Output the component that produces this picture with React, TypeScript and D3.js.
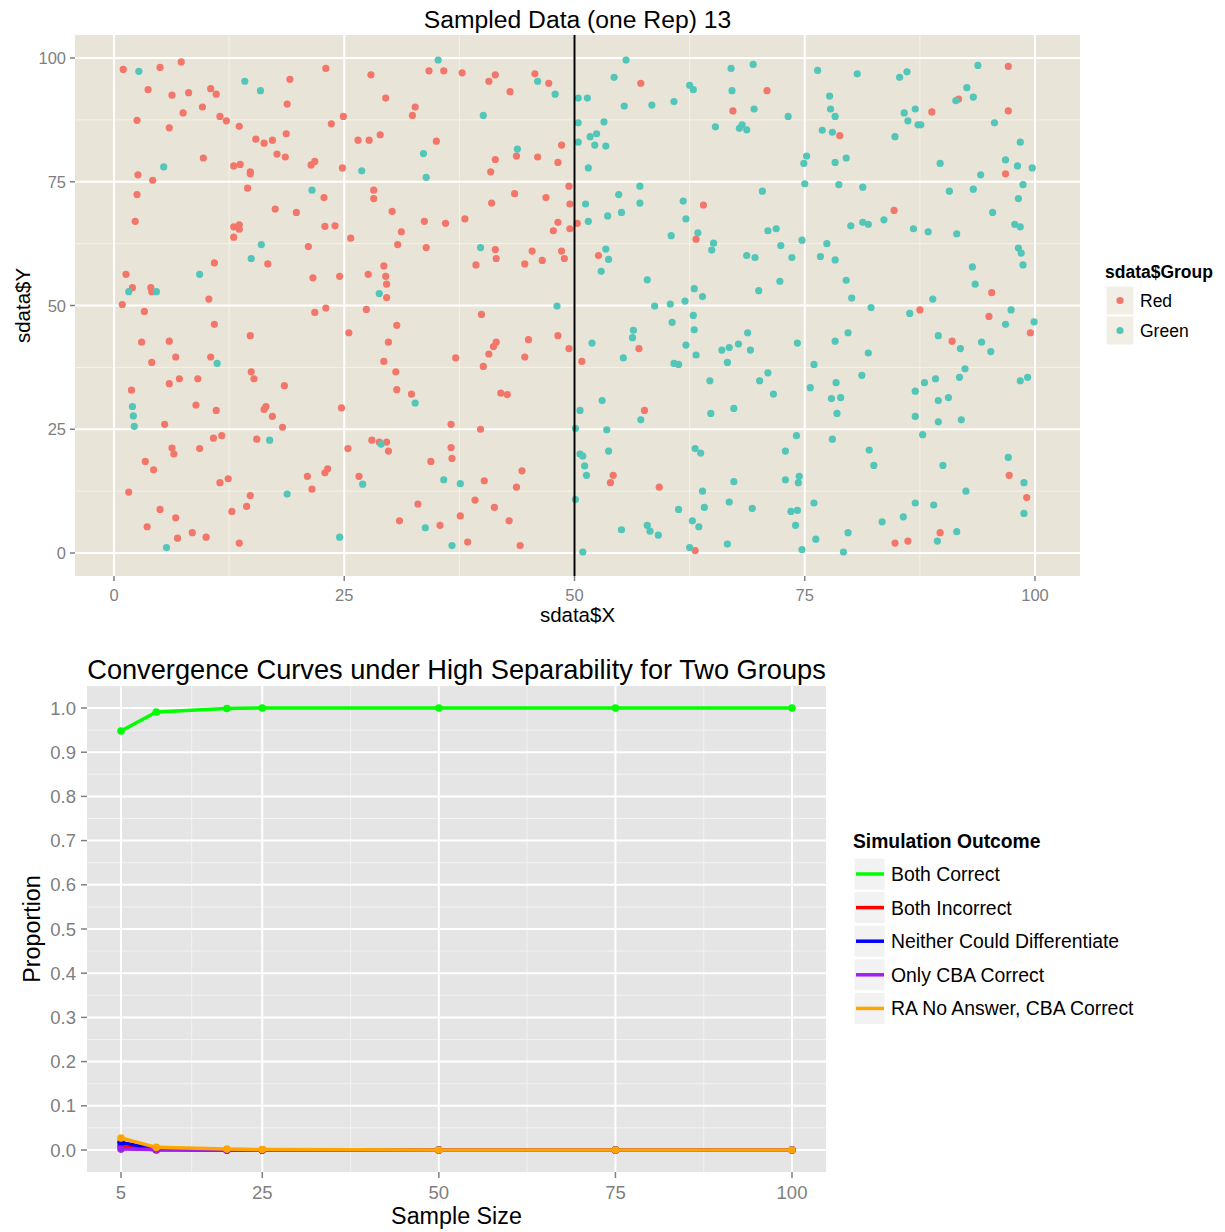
import React from "react";
import * as d3 from "d3";

// ---------- Top chart data (sdata$X, sdata$Y) ----------
const redPoints: [number, number][] = [
  [1.0,97.7],[5.0,98.1],[7.3,99.2],[19.1,95.7],[3.7,93.6],[6.3,92.5],[8.1,93.0],[10.5,93.8],[11.1,92.7],[18.8,90.7],
  [9.6,90.1],[7.5,88.9],[2.5,87.4],[11.5,88.2],[12.2,87.3],[13.6,86.2],[6.0,85.9],[15.4,83.6],[16.3,82.8],[17.2,83.4],
  [18.7,84.7],[17.7,80.6],[18.6,80.0],[9.7,79.8],[13.0,78.2],[13.7,78.5],[14.8,77.0],[14.8,76.6],[21.4,78.4],[21.8,79.1],
  [2.6,76.4],[4.2,75.3],[2.5,72.4],[14.5,73.7],[22.8,71.8],[17.5,69.5],[19.8,68.8],[2.3,67.0],[13.0,65.9],[13.6,66.3],
  [13.6,65.4],[13.0,63.8],[21.1,61.9],[16.7,58.4],[10.9,58.6],[1.3,56.3],[21.6,55.6],[2.0,53.6],[4.0,53.6],[4.1,52.8],
  [10.3,51.3],[0.9,50.2],[23.0,97.9],
  [27.9,96.6],[34.2,97.4],[35.8,97.4],[37.8,97.0],[40.7,95.3],[41.4,96.6],[45.7,96.8],[47.2,94.9],[43.0,93.2],[29.5,91.9],
  [32.7,90.1],[32.4,88.4],[24.9,88.2],[23.6,86.7],[26.5,83.4],[27.7,83.4],[28.9,84.5],[35.0,83.2],[43.7,80.2],[41.4,79.5],
  [46.0,80.0],[48.2,78.9],[48.6,82.4],[40.9,77.0],[24.8,77.8],[28.2,73.3],[28.2,71.6],[30.2,69.0],[33.7,67.0],[36.0,66.6],
  [38.1,67.5],[41.0,70.7],[43.5,72.6],[46.9,71.8],[49.4,74.1],[49.5,70.5],[48.2,66.8],[47.7,65.1],[49.5,65.5],[50.3,66.6],
  [22.9,66.0],[24.0,66.1],[25.7,63.6],[31.2,64.9],[30.8,62.3],[33.9,61.7],[41.4,61.3],[41.5,59.5],[39.3,58.2],[44.6,58.4],
  [45.4,61.0],[46.5,59.1],[48.6,61.0],[48.9,59.5],[29.3,58.0],[24.5,55.9],[27.6,56.3],[29.5,55.9],[29.6,54.3],[29.6,51.6],
  [3.3,48.8],[21.8,48.6],[23.0,49.5],[10.9,46.2],[14.8,43.9],[3.0,42.6],[6.0,42.8],[6.7,39.6],[4.1,38.5],[10.5,39.6],
  [14.9,36.6],[15.2,35.2],[6.0,34.2],[7.1,35.2],[9.1,35.2],[18.5,33.8],[1.9,32.9],[8.9,29.9],[11.1,28.8],[16.3,29.0],
  [16.5,29.6],[17.2,27.6],[18.3,25.4],[5.5,26.0],[10.8,23.2],[11.7,23.7],[15.5,23.0],[6.3,21.2],[6.5,20.0],[9.3,21.1],
  [3.4,18.5],[4.3,16.8],[11.5,14.2],[12.4,15.0],[1.6,12.3],[21.0,15.5],[21.5,12.9],[22.9,16.2],[14.8,11.6],[14.4,9.4],
  [12.8,8.4],[5.0,8.8],[6.7,7.1],[3.6,5.3],[8.5,4.1],[6.9,3.0],[10.0,3.2],[13.6,2.0],
  [27.4,49.2],[39.9,48.2],[30.7,46.0],[25.5,44.5],[29.8,42.6],[29.3,38.7],[37.1,39.4],[41.2,41.7],[41.5,42.6],[40.7,40.2],
  [45.0,43.1],[44.6,39.6],[48.2,43.9],[49.4,41.3],[50.8,38.7],[40.1,37.7],[30.6,36.6],[30.7,33.0],[32.3,32.1],[42.0,32.3],
  [42.7,32.0],[24.7,29.3],[36.6,26.0],[39.8,25.0],[28.0,22.8],[28.8,22.4],[29.6,22.4],[29.8,20.6],[25.4,21.1],[36.6,21.3],
  [36.7,19.1],[34.4,18.5],[23.2,17.0],[26.6,15.5],[40.2,14.6],[44.3,16.6],[43.7,13.3],[33.0,9.9],[39.2,10.7],[41.3,9.2],
  [37.6,7.5],[31.0,6.5],[35.4,5.6],[42.9,6.5],[38.4,2.2],[44.1,1.5],
  [57.2,94.9],[70.9,93.4],[67.2,89.3],[64.0,70.3],[63.2,63.4],[52.6,60.1],
  [97.1,98.3],[91.7,91.7],[88.8,89.1],[97.1,89.3],[78.8,84.3],[96.8,76.6],[84.7,69.2],[95.3,52.6],
  [57.0,41.3],[57.6,28.8],[54.2,15.7],[53.9,14.2],[59.2,13.3],[63.1,0.5],
  [87.5,49.1],[95.0,47.8],[99.5,44.5],[91.0,42.8],[97.2,15.7],[99.1,11.2],[84.8,2.0],[86.2,2.4],[89.7,4.1],
];

const greenPoints: [number, number][] = [
  [2.7,97.3],[14.2,95.3],[15.9,93.4],[5.4,78.0],[21.5,73.3],[16.0,62.3],[14.9,59.5],[9.3,56.3],[1.6,52.8],[4.6,52.8],
  [35.2,99.6],[46.0,95.3],[47.9,92.7],[40.1,88.4],[33.6,80.7],[43.8,81.6],[26.9,77.2],[33.9,75.9],[39.8,61.7],[28.8,52.4],[48.1,49.9],
  [11.2,38.3],[2.0,29.6],[2.1,27.7],[2.2,25.6],[16.9,22.8],[18.8,11.9],[5.7,1.1],
  [32.7,30.3],[29.0,22.0],[27.0,13.9],[35.8,14.8],[37.6,14.0],[50.1,10.8],[33.8,5.1],[24.5,3.2],[36.7,1.5],
  [55.6,99.6],[54.3,96.1],[50.4,91.9],[51.4,91.9],[55.4,90.3],[58.4,90.5],[60.8,91.2],[62.5,94.5],[62.9,93.6],[67.0,97.9],
  [69.4,98.7],[67.1,93.4],[69.5,89.7],[73.2,88.2],[76.4,97.5],[50.4,86.9],[53.2,87.1],[50.4,83.0],[51.7,84.1],[52.4,84.7],
  [52.2,82.4],[53.4,82.2],[51.5,77.8],[65.3,86.1],[67.9,85.8],[68.2,86.5],[68.7,85.5],[75.2,80.2],[74.9,78.7],[75.0,74.6],
  [70.4,73.1],[57.1,74.1],[57.1,70.7],[54.8,72.4],[51.2,70.5],[51.5,67.0],[53.6,68.1],[55.1,68.8],[61.8,71.1],[62.1,67.5],
  [60.5,64.1],[63.4,64.7],[65.1,62.6],[64.9,61.2],[71.0,65.1],[71.9,65.5],[72.4,62.1],[74.7,63.2],[77.4,62.5],[76.7,59.9],
  [73.6,59.7],[68.7,60.1],[69.6,59.7],[53.4,61.4],[53.7,59.3],[52.9,56.9],[57.9,55.2],[63.0,53.4],[63.9,51.8],[70.0,53.0],[72.3,54.9],
  [80.7,96.8],[85.3,96.1],[86.1,97.2],[93.8,98.5],[92.6,94.0],[93.3,92.1],[91.4,91.4],[77.7,92.3],[77.8,89.7],[78.3,88.2],
  [87.0,89.7],[85.8,88.9],[86.2,87.3],[87.3,86.5],[87.6,86.5],[95.6,86.9],[76.9,85.4],[78.0,85.0],[84.8,84.1],[98.4,83.0],
  [78.3,78.9],[79.5,79.8],[89.7,78.7],[96.8,79.4],[98.1,78.2],[99.7,77.8],[94.1,76.4],[98.7,74.4],[98.2,71.6],[78.7,74.4],
  [81.3,73.9],[90.7,73.1],[93.3,73.5],[95.4,68.8],[80.0,66.1],[81.3,66.8],[81.9,66.4],[83.6,67.3],[86.8,65.5],[88.4,64.9],
  [91.5,64.5],[97.8,66.4],[98.4,65.9],[78.3,59.2],[98.2,61.6],[98.5,60.6],[98.7,58.2],[79.5,55.1],[93.2,57.8],[93.5,54.3],
  [80.1,51.5],[88.9,51.3],
  [58.7,49.9],[60.4,50.3],[62.0,50.9],[62.9,48.0],[60.6,46.6],[63.0,45.1],[56.4,45.0],[56.3,43.5],[51.9,42.4],[55.3,39.4],
  [62.1,42.0],[63.2,40.0],[60.8,38.3],[61.3,38.1],[66.0,41.0],[66.8,41.5],[67.8,42.2],[68.8,44.5],[69.1,41.0],[66.6,38.5],
  [74.2,42.4],[76.0,38.1],[64.7,34.8],[70.1,34.8],[71.0,36.4],[71.6,32.1],[75.6,33.4],[53.0,30.8],[50.6,28.8],[57.2,26.9],
  [64.8,28.2],[67.3,29.2],[50.1,25.2],[53.5,24.9],[74.1,23.7],[63.1,21.1],[63.7,20.2],[53.7,20.6],[50.6,20.0],[50.9,19.6],
  [51.1,17.6],[51.3,15.7],[72.9,20.6],[67.3,14.4],[72.9,14.8],[74.4,15.5],[74.3,14.2],[63.9,12.5],[66.8,10.3],[64.1,9.2],
  [61.3,8.8],[69.3,9.0],[73.5,8.4],[74.2,8.6],[76.0,10.1],[62.8,6.5],[63.5,5.3],[55.1,4.7],[57.9,5.6],[58.2,4.4],
  [59.1,3.6],[74.0,5.6],[76.2,2.8],[66.6,1.8],[62.5,1.1],[74.7,0.7],[50.9,0.2],
  [82.2,49.6],[86.4,48.4],[97.4,49.1],[96.8,46.2],[99.9,46.7],[79.7,44.5],[78.3,42.8],[81.9,40.4],[89.5,43.9],[91.9,41.3],
  [94.2,42.6],[95.2,40.7],[92.4,37.2],[91.8,35.5],[98.4,34.8],[99.2,35.5],[78.4,34.4],[81.2,35.9],[87.0,32.7],[88.0,34.4],
  [89.2,35.2],[89.5,30.8],[90.6,31.4],[77.9,31.2],[78.9,31.4],[78.5,28.2],[87.0,27.6],[89.5,26.5],[92.0,26.9],[78.0,23.0],
  [87.8,23.9],[82.0,20.8],[82.5,17.7],[90.0,17.7],[97.1,19.3],[98.8,14.2],[98.8,8.0],[92.5,12.5],[87.0,10.1],[89.0,9.7],
  [85.7,7.3],[83.4,6.3],[79.7,4.1],[79.2,0.2],[89.4,2.4],[91.5,4.3],
];

const groupNames = ["Red", "Green"];
const groupColors = ["#F2776A", "#52C6B8"];
const scatterTicks = [0, 25, 50, 75, 100];
const dividerX = 50;

// ---------- Bottom chart data ----------
const sampleSizes = [5, 10, 20, 25, 50, 75, 100];
const bothCorrect = [0.948, 0.991, 0.999, 1, 1, 1, 1];
const bothIncorrect = [0.008, 0, 0, 0, 0, 0, 0];
const neitherDiff = [0.017, 0.002, 0, 0, 0, 0, 0];
const onlyCBA = [0.002, 0.001, 0, 0, 0, 0, 0];
const raNoAnswer = [0.027, 0.006, 0.002, 0.001, 0, 0, 0];
const outcomeNames = ["Both Correct", "Both Incorrect", "Neither Could Differentiate", "Only CBA Correct", "RA No Answer, CBA Correct"];
const outcomeColors = ["#00FF00", "#FF0000", "#0000FF", "#A020F0", "#FFA500"];
const outcomeSeries = [bothCorrect, bothIncorrect, neitherDiff, onlyCBA, raNoAnswer];
const sizeTicks = [5, 25, 50, 75, 100];
const propTicks = [0, 0.1, 0.2, 0.3, 0.4, 0.5, 0.6, 0.7, 0.8, 0.9, 1.0];

const FONT = "'Liberation Sans', Arial, Helvetica, sans-serif";
const mids = (a: number[]) => d3.pairs(a).map(([p, q]) => (p + q) / 2);

function TopChart() {
  const L = 75, R = 1080, T = 35, B = 576;
  const x = d3.scaleLinear().domain([0, 100]).range([114, 1035]);
  const y = d3.scaleLinear().domain([0, 100]).range([553, 58]);
  const minor = mids(scatterTicks);
  return (
    <g>
      <text x={(L + R) / 2} y={28} textAnchor="middle" fontSize={24.7} fontFamily={FONT} fill="#000">Sampled Data (one Rep) 13</text>
      <rect x={L} y={T} width={R - L} height={B - T} fill="#E8E4D7" />
      {minor.map((v) => (
        <g key={"m" + v}>
          <line x1={x(v)} x2={x(v)} y1={T} y2={B} stroke="#F4F2EA" strokeWidth={1} />
          <line x1={L} x2={R} y1={y(v)} y2={y(v)} stroke="#F4F2EA" strokeWidth={1} />
        </g>
      ))}
      {scatterTicks.map((v) => (
        <g key={"M" + v}>
          <line x1={x(v)} x2={x(v)} y1={T} y2={B} stroke="#FFFFFF" strokeWidth={2} />
          <line x1={L} x2={R} y1={y(v)} y2={y(v)} stroke="#FFFFFF" strokeWidth={2} />
        </g>
      ))}
      {redPoints.map(([a, b], i) => (
        <circle key={"r" + i} cx={x(a)} cy={y(b)} r={3.6} fill={groupColors[0]} />
      ))}
      {greenPoints.map(([a, b], i) => (
        <circle key={"g" + i} cx={x(a)} cy={y(b)} r={3.6} fill={groupColors[1]} />
      ))}
      <line x1={x(dividerX)} x2={x(dividerX)} y1={T} y2={B} stroke="#000" strokeWidth={2} />
      {scatterTicks.map((v) => (
        <g key={"t" + v}>
          <line x1={x(v)} x2={x(v)} y1={B} y2={B + 5} stroke="#7F7F7F" strokeWidth={1.5} />
          <text x={x(v)} y={601} textAnchor="middle" fontSize={16.5} fontFamily={FONT} fill="#7F7F7F">{v}</text>
          <line x1={L - 5} x2={L} y1={y(v)} y2={y(v)} stroke="#7F7F7F" strokeWidth={1.5} />
          <text x={L - 9} y={y(v) + 6} textAnchor="end" fontSize={16.5} fontFamily={FONT} fill="#7F7F7F">{v}</text>
        </g>
      ))}
      <text x={(L + R) / 2} y={622} textAnchor="middle" fontSize={20.5} fontFamily={FONT} fill="#000">sdata$X</text>
      <text transform={`translate(30,${(T + B) / 2}) rotate(-90)`} textAnchor="middle" fontSize={20.5} fontFamily={FONT} fill="#000">sdata$Y</text>
      <text x={1105} y={278} fontSize={17.5} fontWeight="bold" fontFamily={FONT} fill="#000">sdata$Group</text>
      {groupNames.map((g, i) => (
        <g key={g}>
          <rect x={1106} y={286 + i * 30} width={28} height={29} fill="#F1EFE5" stroke="#FFFFFF" strokeWidth={1} />
          <circle cx={1120} cy={300.5 + i * 30} r={3.6} fill={groupColors[i]} />
          <text x={1140} y={307 + i * 30} fontSize={17.5} fontFamily={FONT} fill="#000">{g}</text>
        </g>
      ))}
    </g>
  );
}

function BottomChart() {
  const L = 87, R = 826, T = 686, B = 1172;
  const x = d3.scaleLinear().domain([5, 100]).range([121, 792]);
  const y = d3.scaleLinear().domain([0, 1]).range([1150, 708]);
  const xMinor = mids(sizeTicks);
  const yMinor = mids(propTicks);
  const line = d3.line<[number, number]>().x((d) => x(d[0])).y((d) => y(d[1]));
  return (
    <g>
      <text x={(L + R) / 2} y={679} textAnchor="middle" fontSize={27.2} fontFamily={FONT} fill="#000">Convergence Curves under High Separability for Two Groups</text>
      <rect x={L} y={T} width={R - L} height={B - T} fill="#E5E5E5" />
      {xMinor.map((v) => (
        <line key={"xm" + v} x1={x(v)} x2={x(v)} y1={T} y2={B} stroke="#F2F2F2" strokeWidth={1} />
      ))}
      {yMinor.map((v) => (
        <line key={"ym" + v} x1={L} x2={R} y1={y(v)} y2={y(v)} stroke="#F2F2F2" strokeWidth={1} />
      ))}
      {sizeTicks.map((v) => (
        <line key={"xM" + v} x1={x(v)} x2={x(v)} y1={T} y2={B} stroke="#FFFFFF" strokeWidth={2} />
      ))}
      {propTicks.map((v) => (
        <line key={"yM" + v} x1={L} x2={R} y1={y(v)} y2={y(v)} stroke="#FFFFFF" strokeWidth={2} />
      ))}
      {outcomeSeries.map((s, k) => {
        const pts = sampleSizes.map((n, i) => [n, s[i]] as [number, number]);
        return (
          <g key={"s" + k}>
            <path d={line(pts) || ""} fill="none" stroke={outcomeColors[k]} strokeWidth={3.5} strokeLinejoin="round" />
            {pts.map((p, i) => (
              <circle key={i} cx={x(p[0])} cy={y(p[1])} r={3.8} fill={outcomeColors[k]} />
            ))}
          </g>
        );
      })}
      {sizeTicks.map((v) => (
        <g key={"xt" + v}>
          <line x1={x(v)} x2={x(v)} y1={B} y2={B + 6} stroke="#7F7F7F" strokeWidth={1.5} />
          <text x={x(v)} y={1199} textAnchor="middle" fontSize={18.5} fontFamily={FONT} fill="#7F7F7F">{v}</text>
        </g>
      ))}
      {propTicks.map((v) => (
        <g key={"yt" + v}>
          <line x1={L - 6} x2={L} y1={y(v)} y2={y(v)} stroke="#7F7F7F" strokeWidth={1.5} />
          <text x={L - 11} y={y(v) + 6.5} textAnchor="end" fontSize={18.5} fontFamily={FONT} fill="#7F7F7F">{v.toFixed(1)}</text>
        </g>
      ))}
      <text x={(L + R) / 2} y={1224} textAnchor="middle" fontSize={23.3} fontFamily={FONT} fill="#000">Sample Size</text>
      <text transform={`translate(40,${(T + B) / 2}) rotate(-90)`} textAnchor="middle" fontSize={23.3} fontFamily={FONT} fill="#000">Proportion</text>
      <text x={853} y={848} fontSize={19.3} fontWeight="bold" fontFamily={FONT} fill="#000">Simulation Outcome</text>
      {outcomeNames.map((nm, i) => (
        <g key={nm}>
          <rect x={854} y={858 + i * 33.6} width={31} height={32} fill="#F2F2F2" stroke="#FFFFFF" strokeWidth={1} />
          <line x1={856} x2={884} y1={874 + i * 33.6} y2={874 + i * 33.6} stroke={outcomeColors[i]} strokeWidth={3.5} />
          <text x={891} y={881 + i * 33.6} fontSize={19.4} fontFamily={FONT} fill="#000">{nm}</text>
        </g>
      ))}
    </g>
  );
}

export default function App() {
  return (
    <div style={{ position: "absolute", left: 0, top: 0 }}>
      <svg width={1225} height={1232} viewBox="0 0 1225 1232" style={{ display: "block", background: "#FFFFFF" }}>
        <TopChart />
        <BottomChart />
      </svg>
    </div>
  );
}
